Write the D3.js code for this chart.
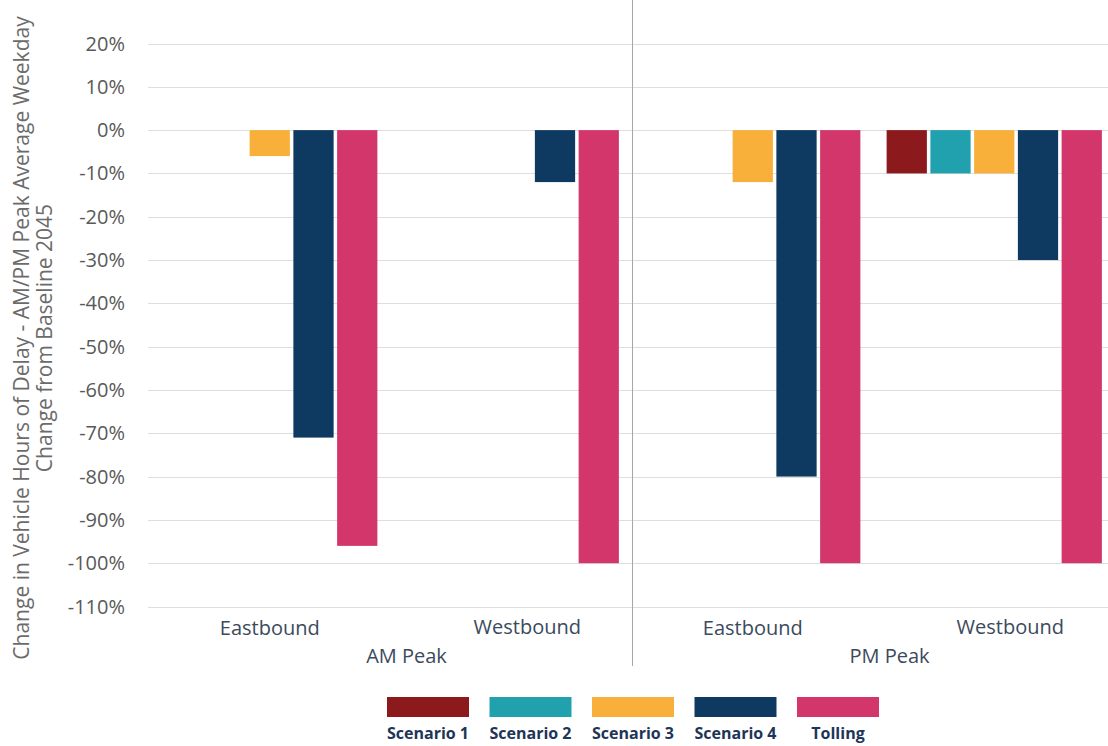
<!DOCTYPE html>
<html>
<head>
<meta charset="utf-8">
<script src="https://cdn.jsdelivr.net/npm/d3@7"></script>
<style>
  body { margin: 0; background: #ffffff; }
  svg text { font-family: "Open Sans", "Noto Sans", sans-serif; }
</style>
</head>
<body>
<svg id="chart" width="1108" height="746"></svg>
<script>
// categories
var periods = ["AM Peak", "PM Peak"]
var directions = ["Eastbound", "Westbound"]
var seriesNames = ["Scenario 1", "Scenario 2", "Scenario 3", "Scenario 4", "Tolling"]
var seriesColors = ["#8c1a1c", "#21a1ad", "#f8b03a", "#0e3a62", "#d2366a"]

// values per series, in order AM East, AM West, PM East, PM West (% change)
var scenario1 = [0, 0, 0, -10]
var scenario2 = [0, 0, 0, -10]
var scenario3 = [-6, 0, -12, -10]
var scenario4 = [-71, -12, -80, -30]
var tolling = [-96, -100, -100, -100]
var seriesValues = [scenario1, scenario2, scenario3, scenario4, tolling]

var yTicks = [20, 10, 0, -10, -20, -30, -40, -50, -60, -70, -80, -90, -100, -110]

var categories = []
periods.forEach(function(p){
  directions.forEach(function(d){ categories.push(p + "|" + d) })
})

var svg = d3.select("#chart")

var x0 = d3.scaleBand().domain(categories).range([149, 1115]).padding(0)
var x1 = d3.scaleBand().domain(seriesNames).range([0, x0.bandwidth()])
           .paddingInner(0.08).paddingOuter(0.3)
var y = d3.scaleLinear().domain([-110, 20]).range([606.5, 43.5])

// gridlines
svg.append("g").selectAll("line")
  .data(yTicks)
  .enter()
  .append("line")
  .attr("x1", 148)
  .attr("x2", 1108)
  .attr("y1", function(d){ return Math.round(y(d)) + 0.5 })
  .attr("y2", function(d){ return Math.round(y(d)) + 0.5 })
  .style("stroke", "#dedede")
  .style("stroke-width", 1)

// y tick labels
svg.append("g").selectAll("text")
  .data(yTicks)
  .enter()
  .append("text")
  .text(function(d){ return d + "%" })
  .attr("x", 125)
  .attr("y", function(d){ return y(d) + 7 })
  .attr("text-anchor", "end")
  .style("font-size", "20px")
  .style("fill", "#595959")

// bars
var flat = []
seriesValues.forEach(function(vals, si){
  vals.forEach(function(v, ci){
    flat.push({cat: categories[ci], series: seriesNames[si], color: seriesColors[si], value: v})
  })
})

svg.append("g").selectAll("rect")
  .data(flat.filter(function(d){ return d.value != 0 }))
  .enter()
  .append("rect")
  .attr("x", function(d){ return x0(d.cat) + x1(d.series) })
  .attr("width", x1.bandwidth())
  .attr("y", function(d){ return y(Math.max(0, d.value)) })
  .attr("height", function(d){ return Math.abs(y(d.value) - y(0)) })
  .style("fill", function(d){ return d.color })

// divider between AM and PM
var divX = Math.round(x0(categories[2])) + 0.5
svg.append("line")
  .attr("x1", divX).attr("x2", divX)
  .attr("y1", 0).attr("y2", 666)
  .style("stroke", "#a6a6a6")
  .style("stroke-width", 1)

// direction labels
svg.append("g").selectAll("text")
  .data(categories)
  .enter()
  .append("text")
  .text(function(d){ return d.split("|")[1] })
  .attr("x", function(d){
    var dx = d.split("|")[1] == "Westbound" ? 16 : 0
    return x0(d) + x0.bandwidth()/2 + dx })
  .attr("y", function(d){ return d.split("|")[1] == "Westbound" ? 634 : 635 })
  .attr("text-anchor", "middle")
  .style("font-size", "20px")
  .style("fill", "#3b4a5c")

// period labels
svg.append("g").selectAll("text")
  .data(periods)
  .enter()
  .append("text")
  .text(function(d){ return d })
  .attr("x", function(d, i){
    return x0(categories[i*2]) + x0.bandwidth() + 16 })
  .attr("y", 663)
  .attr("text-anchor", "middle")
  .style("font-size", "20px")
  .style("fill", "#3b4a5c")

// y axis title
var title = svg.append("text")
  .attr("transform", "translate(29,338) rotate(-90)")
  .attr("text-anchor", "middle")
  .style("font-size", "21px")
  .style("fill", "#6b6b6b")
title.append("tspan").attr("x", 0).attr("dy", 0)
  .text("Change in Vehicle Hours of Delay - AM/PM Peak Average Weekday")
title.append("tspan").attr("x", 0).attr("dy", 23)
  .text("Change from Baseline 2045")

// legend
var legend = svg.append("g").selectAll("g")
  .data(seriesNames)
  .enter()
  .append("g")
  .attr("transform", function(d, i){ return "translate(" + (387 + i*102.5) + ",697)" })

legend.append("rect")
  .attr("width", 82)
  .attr("height", 20)
  .style("fill", function(d, i){ return seriesColors[i] })

legend.append("text")
  .text(function(d){ return d })
  .attr("x", 41)
  .attr("y", 42)
  .attr("text-anchor", "middle")
  .style("font-size", "16px")
  .style("font-weight", "bold")
  .style("fill", "#1d3557")
</script>
</body>
</html>
